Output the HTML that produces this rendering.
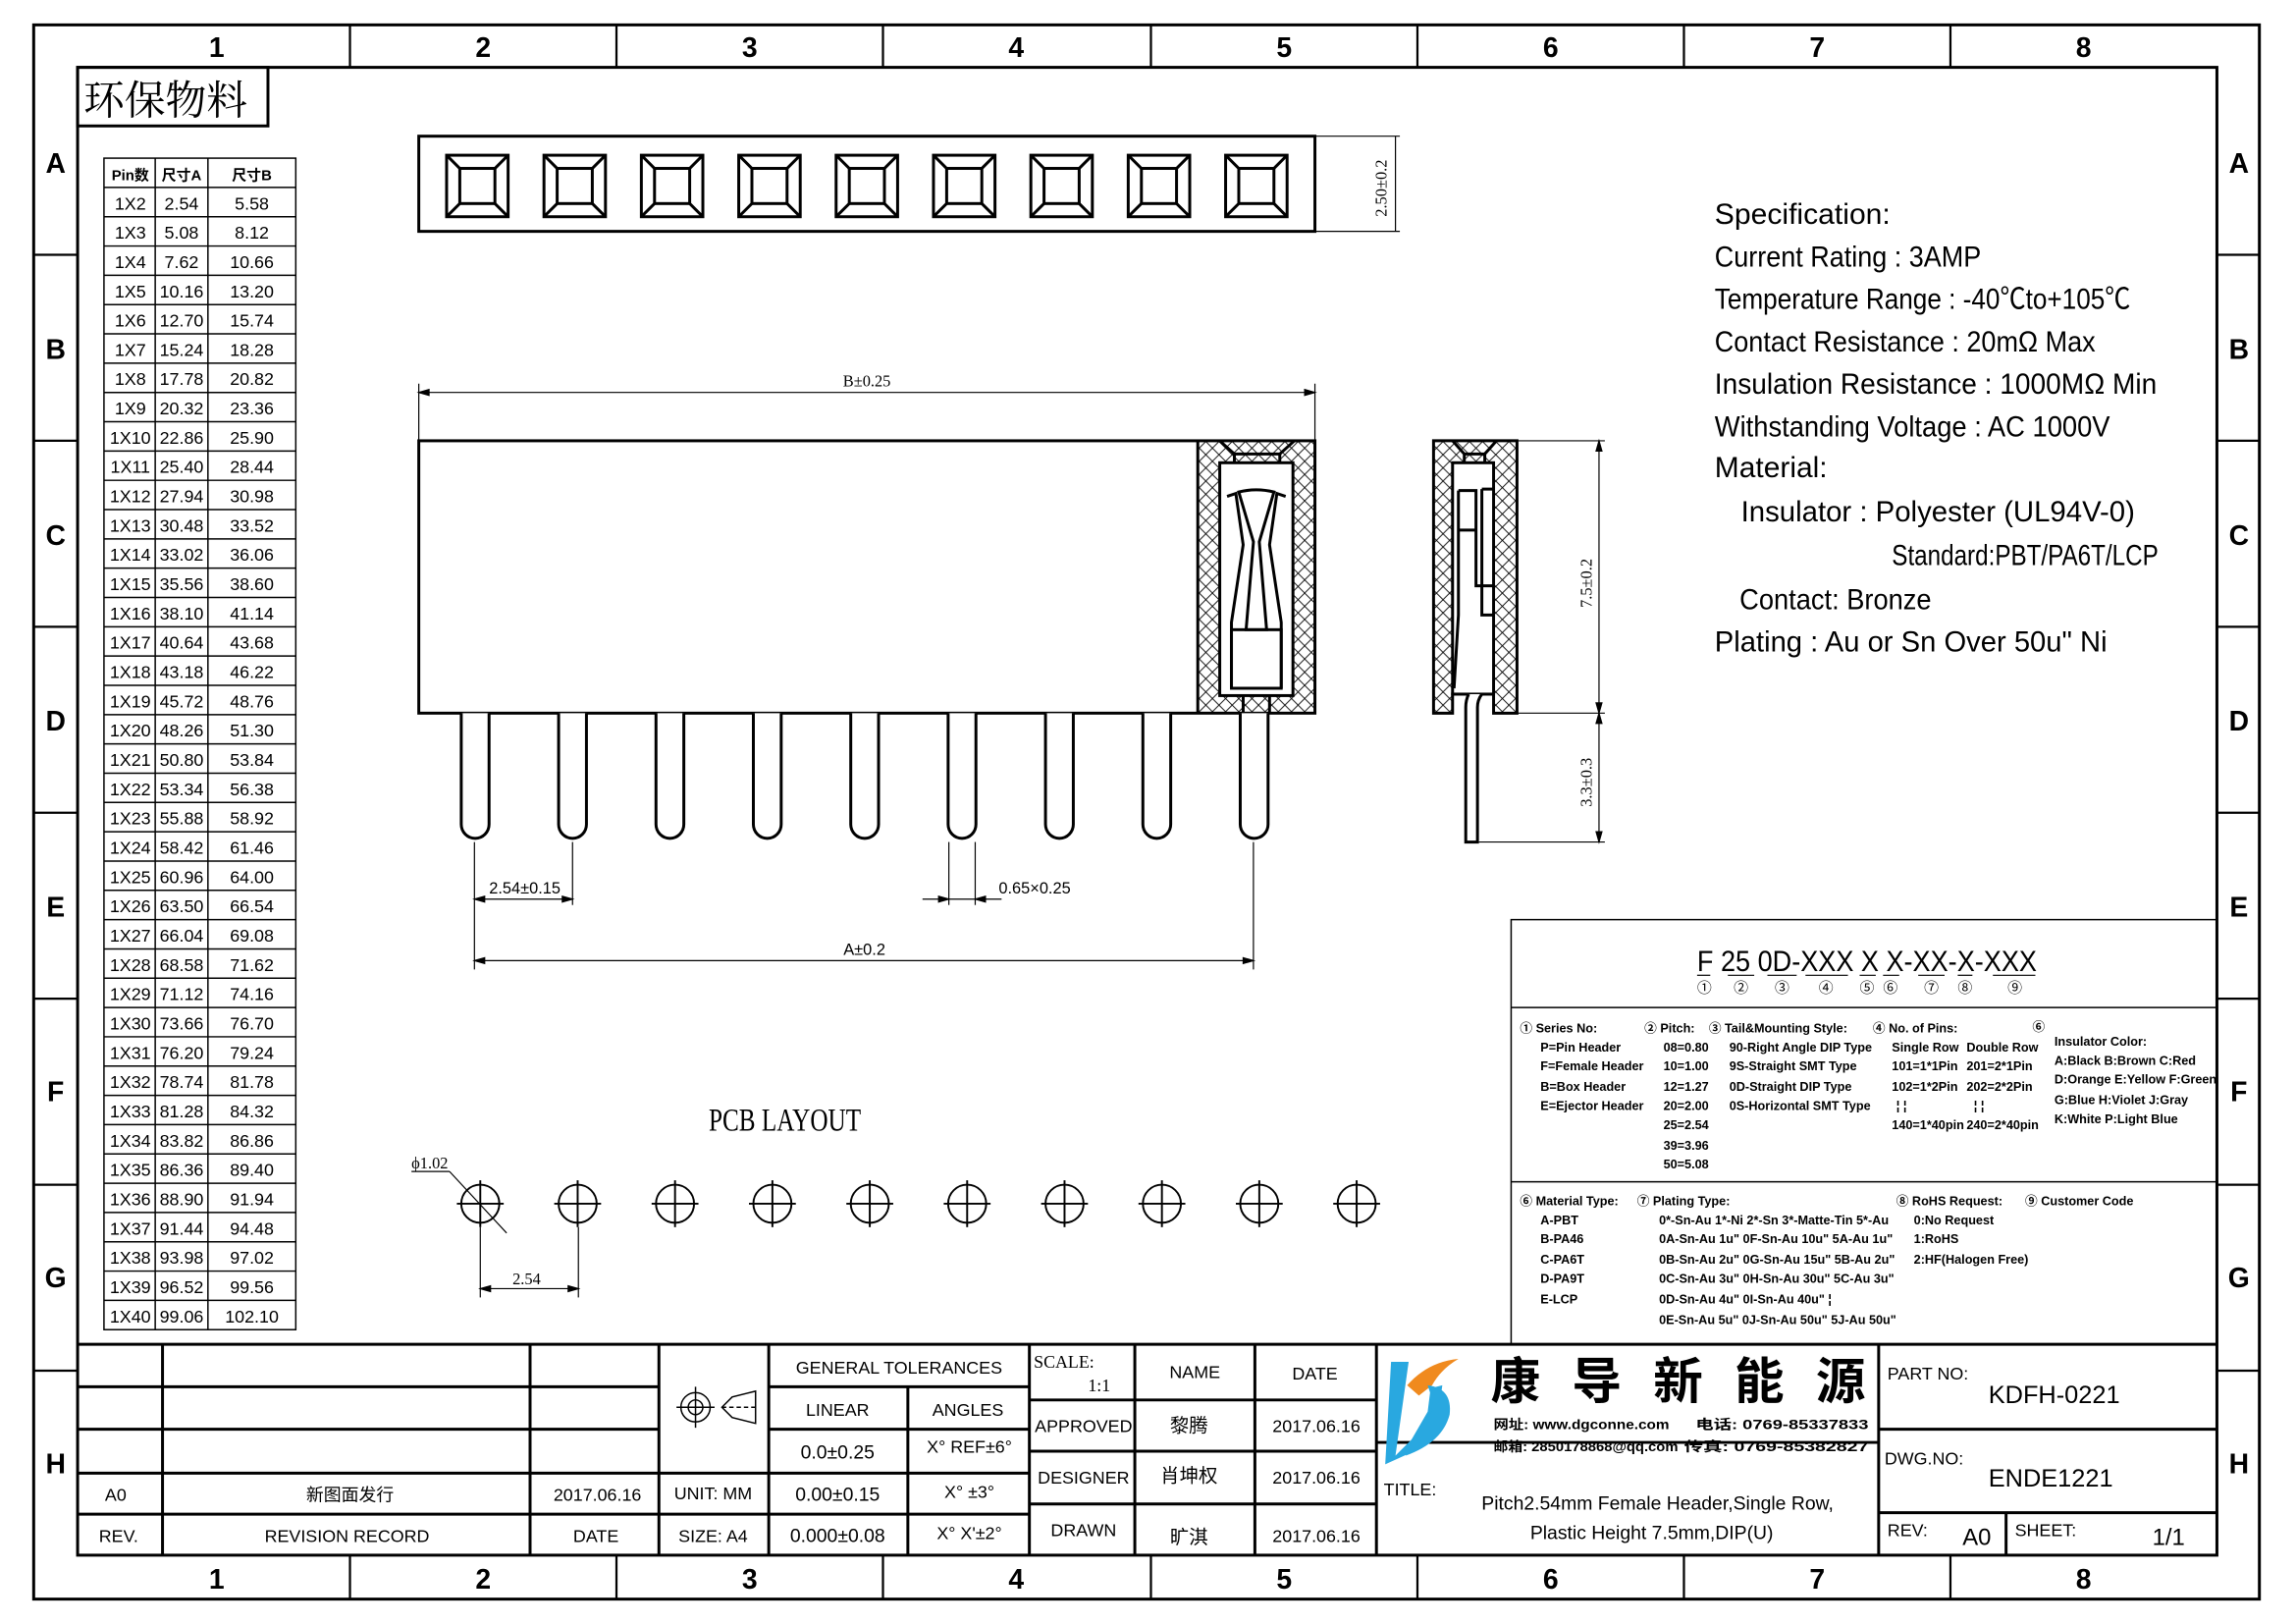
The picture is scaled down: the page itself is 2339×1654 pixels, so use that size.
<!DOCTYPE html>
<html><head><meta charset="utf-8"><style>
html,body{margin:0;padding:0;background:#fff;}
svg{display:block;}
text{font-family:"Liberation Sans","Noto Sans CJK SC",sans-serif;fill:#000;}
.s{font-family:"Liberation Serif","Noto Serif CJK SC","Noto Sans CJK SC",serif;}
.m{font-family:"Liberation Mono","Noto Sans CJK SC",monospace;}
.b{font-weight:bold;}
</style></head><body>
<svg width="2339" height="1654" viewBox="0 0 1568 1109" preserveAspectRatio="none" xmlns="http://www.w3.org/2000/svg">
<defs>
<pattern id="hx" width="9" height="9" patternUnits="userSpaceOnUse">
<path d="M0,0 L9,9 M9,0 L0,9" stroke="#000" stroke-width="0.6"/>
</pattern>
</defs>
<rect width="1568" height="1109" fill="#fff"/>
<!-- frame -->
<g fill="none" stroke="#000">
<rect x="23" y="17" width="1520" height="1075" stroke-width="2"/>
<rect x="53" y="46" width="1461" height="1016" stroke-width="2"/>
<g stroke-width="1.5">
<line x1="239" y1="17" x2="239" y2="46"/><line x1="421" y1="17" x2="421" y2="46"/><line x1="603" y1="17" x2="603" y2="46"/><line x1="786" y1="17" x2="786" y2="46"/><line x1="968" y1="17" x2="968" y2="46"/><line x1="1150" y1="17" x2="1150" y2="46"/><line x1="1332" y1="17" x2="1332" y2="46"/>
<line x1="239" y1="1062" x2="239" y2="1092"/><line x1="421" y1="1062" x2="421" y2="1092"/><line x1="603" y1="1062" x2="603" y2="1092"/><line x1="786" y1="1062" x2="786" y2="1092"/><line x1="968" y1="1062" x2="968" y2="1092"/><line x1="1150" y1="1062" x2="1150" y2="1092"/><line x1="1332" y1="1062" x2="1332" y2="1092"/>
<line x1="23" y1="174" x2="53" y2="174"/><line x1="23" y1="301" x2="53" y2="301"/><line x1="23" y1="428" x2="53" y2="428"/><line x1="23" y1="555" x2="53" y2="555"/><line x1="23" y1="682" x2="53" y2="682"/><line x1="23" y1="809" x2="53" y2="809"/><line x1="23" y1="936" x2="53" y2="936"/>
<line x1="1514" y1="174" x2="1543" y2="174"/><line x1="1514" y1="301" x2="1543" y2="301"/><line x1="1514" y1="428" x2="1543" y2="428"/><line x1="1514" y1="555" x2="1543" y2="555"/><line x1="1514" y1="682" x2="1543" y2="682"/><line x1="1514" y1="809" x2="1543" y2="809"/><line x1="1514" y1="936" x2="1543" y2="936"/>
</g></g>
<g font-size="19" font-weight="bold" text-anchor="middle">
<text x="148" y="39">1</text><text x="330" y="39">2</text><text x="512" y="39">3</text><text x="694" y="39">4</text><text x="877" y="39">5</text><text x="1059" y="39">6</text><text x="1241" y="39">7</text><text x="1423" y="39">8</text>
<text x="148" y="1085">1</text><text x="330" y="1085">2</text><text x="512" y="1085">3</text><text x="694" y="1085">4</text><text x="877" y="1085">5</text><text x="1059" y="1085">6</text><text x="1241" y="1085">7</text><text x="1423" y="1085">8</text>
<text x="38" y="118">A</text><text x="38" y="245">B</text><text x="38" y="372">C</text><text x="38" y="499">D</text><text x="38" y="626">E</text><text x="38" y="752">F</text><text x="38" y="879">G</text><text x="38" y="1006">H</text>
<text x="1529" y="118">A</text><text x="1529" y="245">B</text><text x="1529" y="372">C</text><text x="1529" y="499">D</text><text x="1529" y="626">E</text><text x="1529" y="752">F</text><text x="1529" y="879">G</text><text x="1529" y="1006">H</text>
</g>
<!-- eco label -->
<rect x="53" y="46" width="130" height="40" fill="none" stroke="#000" stroke-width="2"/>
<text x="57" y="78" font-size="28" class="s">环保物料</text>
<!-- table -->
<g fill="none" stroke="#000" stroke-width="1">
<rect x="71" y="108" width="131" height="800"/>
<line x1="106" y1="108" x2="106" y2="908"/><line x1="142" y1="108" x2="142" y2="908"/>
</g>
<g stroke="#000" stroke-width="1">
<line x1="71" y1="128" x2="202" y2="128"/><line x1="71" y1="148" x2="202" y2="148"/><line x1="71" y1="168" x2="202" y2="168"/><line x1="71" y1="188" x2="202" y2="188"/><line x1="71" y1="208" x2="202" y2="208"/><line x1="71" y1="228" x2="202" y2="228"/><line x1="71" y1="248" x2="202" y2="248"/><line x1="71" y1="268" x2="202" y2="268"/><line x1="71" y1="288" x2="202" y2="288"/><line x1="71" y1="308" x2="202" y2="308"/><line x1="71" y1="328" x2="202" y2="328"/><line x1="71" y1="348" x2="202" y2="348"/><line x1="71" y1="368" x2="202" y2="368"/><line x1="71" y1="388" x2="202" y2="388"/><line x1="71" y1="408" x2="202" y2="408"/><line x1="71" y1="428" x2="202" y2="428"/><line x1="71" y1="448" x2="202" y2="448"/><line x1="71" y1="468" x2="202" y2="468"/><line x1="71" y1="488" x2="202" y2="488"/><line x1="71" y1="508" x2="202" y2="508"/><line x1="71" y1="528" x2="202" y2="528"/><line x1="71" y1="548" x2="202" y2="548"/><line x1="71" y1="568" x2="202" y2="568"/><line x1="71" y1="588" x2="202" y2="588"/><line x1="71" y1="608" x2="202" y2="608"/><line x1="71" y1="628" x2="202" y2="628"/><line x1="71" y1="648" x2="202" y2="648"/><line x1="71" y1="668" x2="202" y2="668"/><line x1="71" y1="688" x2="202" y2="688"/><line x1="71" y1="708" x2="202" y2="708"/><line x1="71" y1="728" x2="202" y2="728"/><line x1="71" y1="748" x2="202" y2="748"/><line x1="71" y1="768" x2="202" y2="768"/><line x1="71" y1="788" x2="202" y2="788"/><line x1="71" y1="808" x2="202" y2="808"/><line x1="71" y1="828" x2="202" y2="828"/><line x1="71" y1="848" x2="202" y2="848"/><line x1="71" y1="868" x2="202" y2="868"/><line x1="71" y1="888" x2="202" y2="888"/>
</g>
<g font-size="12" class="s" text-anchor="middle">
<text x="89" y="123" font-size="10" font-weight="bold">Pin数</text><text x="124" y="123" font-size="10" font-weight="bold">尺寸A</text><text x="172" y="123" font-size="10" font-weight="bold">尺寸B</text>
</g>
<g font-size="12" class="s" text-anchor="middle">
<g>
<text x="89" y="143">1X2</text><text x="89" y="163">1X3</text><text x="89" y="183">1X4</text><text x="89" y="203">1X5</text><text x="89" y="223">1X6</text><text x="89" y="243">1X7</text><text x="89" y="263">1X8</text><text x="89" y="283">1X9</text><text x="89" y="303">1X10</text><text x="89" y="323">1X11</text><text x="89" y="343">1X12</text><text x="89" y="363">1X13</text><text x="89" y="383">1X14</text><text x="89" y="403">1X15</text><text x="89" y="423">1X16</text><text x="89" y="443">1X17</text><text x="89" y="463">1X18</text><text x="89" y="483">1X19</text><text x="89" y="503">1X20</text><text x="89" y="523">1X21</text><text x="89" y="543">1X22</text><text x="89" y="563">1X23</text><text x="89" y="583">1X24</text><text x="89" y="603">1X25</text><text x="89" y="623">1X26</text><text x="89" y="643">1X27</text><text x="89" y="663">1X28</text><text x="89" y="683">1X29</text><text x="89" y="703">1X30</text><text x="89" y="723">1X31</text><text x="89" y="743">1X32</text><text x="89" y="763">1X33</text><text x="89" y="783">1X34</text><text x="89" y="803">1X35</text><text x="89" y="823">1X36</text><text x="89" y="843">1X37</text><text x="89" y="863">1X38</text><text x="89" y="883">1X39</text><text x="89" y="903">1X40</text>
</g>
<g>
<text x="124" y="143">2.54</text><text x="124" y="163">5.08</text><text x="124" y="183">7.62</text><text x="124" y="203">10.16</text><text x="124" y="223">12.70</text><text x="124" y="243">15.24</text><text x="124" y="263">17.78</text><text x="124" y="283">20.32</text><text x="124" y="303">22.86</text><text x="124" y="323">25.40</text><text x="124" y="343">27.94</text><text x="124" y="363">30.48</text><text x="124" y="383">33.02</text><text x="124" y="403">35.56</text><text x="124" y="423">38.10</text><text x="124" y="443">40.64</text><text x="124" y="463">43.18</text><text x="124" y="483">45.72</text><text x="124" y="503">48.26</text><text x="124" y="523">50.80</text><text x="124" y="543">53.34</text><text x="124" y="563">55.88</text><text x="124" y="583">58.42</text><text x="124" y="603">60.96</text><text x="124" y="623">63.50</text><text x="124" y="643">66.04</text><text x="124" y="663">68.58</text><text x="124" y="683">71.12</text><text x="124" y="703">73.66</text><text x="124" y="723">76.20</text><text x="124" y="743">78.74</text><text x="124" y="763">81.28</text><text x="124" y="783">83.82</text><text x="124" y="803">86.36</text><text x="124" y="823">88.90</text><text x="124" y="843">91.44</text><text x="124" y="863">93.98</text><text x="124" y="883">96.52</text><text x="124" y="903">99.06</text>
<text x="172" y="143">5.58</text><text x="172" y="163">8.12</text><text x="172" y="183">10.66</text><text x="172" y="203">13.20</text><text x="172" y="223">15.74</text><text x="172" y="243">18.28</text><text x="172" y="263">20.82</text><text x="172" y="283">23.36</text><text x="172" y="303">25.90</text><text x="172" y="323">28.44</text><text x="172" y="343">30.98</text><text x="172" y="363">33.52</text><text x="172" y="383">36.06</text><text x="172" y="403">38.60</text><text x="172" y="423">41.14</text><text x="172" y="443">43.68</text><text x="172" y="463">46.22</text><text x="172" y="483">48.76</text><text x="172" y="503">51.30</text><text x="172" y="523">53.84</text><text x="172" y="543">56.38</text><text x="172" y="563">58.92</text><text x="172" y="583">61.46</text><text x="172" y="603">64.00</text><text x="172" y="623">66.54</text><text x="172" y="643">69.08</text><text x="172" y="663">71.62</text><text x="172" y="683">74.16</text><text x="172" y="703">76.70</text><text x="172" y="723">79.24</text><text x="172" y="743">81.78</text><text x="172" y="763">84.32</text><text x="172" y="783">86.86</text><text x="172" y="803">89.40</text><text x="172" y="823">91.94</text><text x="172" y="843">94.48</text><text x="172" y="863">97.02</text><text x="172" y="883">99.56</text><text x="172" y="903">102.10</text>
</g></g>
<!-- top view -->
<g fill="none" stroke="#000" stroke-width="2">
<rect x="286" y="93" width="612" height="65"/>
</g>
<g fill="none" stroke="#000" stroke-width="2">
<g id="sq"><rect x="305" y="106" width="42" height="42"/><rect x="314" y="115" width="24" height="24"/><path d="M305,106 L314,115 M347,106 L338,115 M305,148 L314,139 M347,148 L338,139"/></g>
<use href="#sq" x="66.5"/><use href="#sq" x="133"/><use href="#sq" x="199.5"/><use href="#sq" x="266"/><use href="#sq" x="332.5"/><use href="#sq" x="399"/><use href="#sq" x="465.5"/><use href="#sq" x="532"/>
</g>
<g stroke="#000" stroke-width="0.8" fill="none">
<line x1="898" y1="93" x2="956" y2="93"/><line x1="898" y1="158" x2="956" y2="158"/><line x1="953" y1="93" x2="953" y2="158"/>
</g>
<text transform="translate(947,148) rotate(-90)" font-size="11" class="s">2.50±0.2</text>
<!-- side view -->
<g stroke="#000" stroke-width="0.8" fill="none">
<line x1="286" y1="262" x2="286" y2="301"/><line x1="898" y1="262" x2="898" y2="301"/><line x1="286" y1="268" x2="898" y2="268"/>
<path d="M286,268 l7,-2 v4z M898,268 l-7,-2 v4z" fill="#000"/>
</g>
<text x="592" y="264" font-size="11" class="s" text-anchor="middle">B±0.25</text>
<rect x="286" y="301" width="612" height="186" fill="none" stroke="#000" stroke-width="2"/>
<path d="M818,301 H898 V487 H818 Z M833,316 H883 V475 H833 Z" fill="url(#hx)" fill-rule="evenodd" stroke="none"/>
<g fill="none" stroke="#000" stroke-width="2">
<line x1="818" y1="301" x2="818" y2="487"/>
<rect x="833" y="316" width="50" height="159" fill="#fff"/>
<path d="M833,301 L843,310 H874 L884,301"/>
<path d="M843,310 V316 M874,310 V316"/>
<path d="M838,339 L844,337 L849,372 L841,425 L841,470 M878,339 L872,337 L867,372 L875,425 L875,470"/>
<path d="M846,336 Q858,333 870,336 L860,370 L865,430 H851 L856,370 Z"/>
<rect x="841" y="430" width="34" height="40"/>
<path d="M849,475 V487 M867,475 V487"/>
</g>
<!-- pins -->
<g fill="#fff" stroke="#000" stroke-width="2">
<path d="M315,487 V563 A9.5,9.5 0 0 0 334,563 V487"/>
<path d="M381.5,487 V563 A9.5,9.5 0 0 0 400.5,563 V487"/>
<path d="M448,487 V563 A9.5,9.5 0 0 0 467,563 V487"/>
<path d="M514.5,487 V563 A9.5,9.5 0 0 0 533.5,563 V487"/>
<path d="M581,487 V563 A9.5,9.5 0 0 0 600,563 V487"/>
<path d="M647.5,487 V563 A9.5,9.5 0 0 0 666.5,563 V487"/>
<path d="M714,487 V563 A9.5,9.5 0 0 0 733,563 V487"/>
<path d="M780.5,487 V563 A9.5,9.5 0 0 0 799.5,563 V487"/>
<path d="M847,487 V563 A9.5,9.5 0 0 0 866,563 V487"/>
</g>
<!-- dims under pins -->
<g stroke="#000" stroke-width="0.8" fill="none">
<line x1="324" y1="575" x2="324" y2="662"/><line x1="391" y1="575" x2="391" y2="618"/><line x1="856" y1="575" x2="856" y2="662"/>
<line x1="648" y1="575" x2="648" y2="618"/><line x1="666" y1="575" x2="666" y2="618"/>
<line x1="324" y1="614" x2="391" y2="614"/><line x1="630" y1="614" x2="684" y2="614"/>
<line x1="324" y1="656" x2="856" y2="656"/>
<path d="M324,614 l7,-2 v4z M391,614 l-7,-2 v4z M648,614 l-7,-2 v4z M666,614 l7,-2 v4z M324,656 l7,-2 v4z M856,656 l-7,-2 v4z" fill="#000"/>
</g>
<g font-size="11" class="s">
<text x="334" y="610">2.54±0.15</text><text x="682" y="610">0.65×0.25</text><text x="576" y="652">A±0.2</text>
</g>
<!-- profile view -->
<path d="M979,301 H1036 V487 H1020 V316 H992 V487 H979 Z" fill="url(#hx)"/>
<g fill="none" stroke="#000" stroke-width="2">
<path d="M979,301 H1036 V487 H1020 V474 H992 V487 H979 Z"/>
<rect x="992" y="316" width="28" height="158" fill="#fff"/>
<path d="M992,301 L1000,310 H1014 L1022,301 M1000,310 V316 M1014,310 V316"/>
<path d="M996,335 H1008 V400 H1020 M996,335 V420 L993,470 M1012,334 H1020 M1012,334 V420 H1020"/>
<line x1="996" y1="362" x2="1008" y2="362"/>
<path d="M1003,474 Q1001,478 1001,483 V575 H1009 V483 Q1009,478 1012,474" fill="#fff"/>
</g>
<g stroke="#000" stroke-width="0.8" fill="none">
<line x1="1036" y1="301" x2="1096" y2="301"/><line x1="1036" y1="487" x2="1096" y2="487"/><line x1="1010" y1="575" x2="1096" y2="575"/>
<line x1="1092" y1="301" x2="1092" y2="575"/>
<path d="M1092,301 l-2,7 h4z M1092,487 l-2,-7 h4z M1092,487 l-2,7 h4z M1092,575 l-2,-7 h4z" fill="#000"/>
</g>
<text transform="translate(1087,415) rotate(-90)" font-size="11" class="s">7.5±0.2</text>
<text transform="translate(1087,551) rotate(-90)" font-size="11" class="s">3.3±0.3</text>
<!-- spec -->
<g font-size="20" class="s">
<text x="1171" y="153" textLength="120" lengthAdjust="spacingAndGlyphs">Specification:</text>
<text x="1171" y="182" textLength="182" lengthAdjust="spacingAndGlyphs">Current Rating : 3AMP</text>
<text x="1171" y="211" textLength="284" lengthAdjust="spacingAndGlyphs">Temperature Range : -40℃to+105℃</text>
<text x="1171" y="240" textLength="260" lengthAdjust="spacingAndGlyphs">Contact Resistance : 20mΩ Max</text>
<text x="1171" y="269" textLength="302" lengthAdjust="spacingAndGlyphs">Insulation Resistance : 1000MΩ Min</text>
<text x="1171" y="298" textLength="270" lengthAdjust="spacingAndGlyphs">Withstanding Voltage : AC 1000V</text>
<text x="1171" y="326" textLength="77" lengthAdjust="spacingAndGlyphs">Material:</text>
<text x="1189" y="356" textLength="269" lengthAdjust="spacingAndGlyphs">Insulator : Polyester (UL94V-0)</text>
<text x="1292" y="386" textLength="182" lengthAdjust="spacingAndGlyphs">Standard:PBT/PA6T/LCP</text>
<text x="1188" y="416" textLength="131" lengthAdjust="spacingAndGlyphs">Contact: Bronze</text>
<text x="1171" y="445" textLength="268" lengthAdjust="spacingAndGlyphs">Plating : Au or Sn Over 50u" Ni</text>
</g>
<!-- PCB layout -->
<text x="484" y="772" font-size="22" class="s" textLength="104" lengthAdjust="spacingAndGlyphs">PCB LAYOUT</text>
<g fill="none" stroke="#000" stroke-width="1.3">
<g id="hole"><circle cx="328" cy="822" r="13"/><line x1="312" y1="822" x2="344" y2="822"/><line x1="328" y1="806" x2="328" y2="838"/></g>
<use href="#hole" x="66.5"/><use href="#hole" x="133"/><use href="#hole" x="199.5"/><use href="#hole" x="266"/><use href="#hole" x="332.5"/><use href="#hole" x="399"/><use href="#hole" x="465.5"/><use href="#hole" x="532"/><use href="#hole" x="598.5"/>
</g>
<g stroke="#000" stroke-width="0.8" fill="none">
<line x1="307" y1="800" x2="346" y2="842"/><line x1="281" y1="800" x2="307" y2="800"/>
<line x1="328" y1="838" x2="328" y2="886"/><line x1="395" y1="838" x2="395" y2="886"/><line x1="328" y1="880" x2="395" y2="880"/>
<path d="M328,880 l7,-2 v4z M395,880 l-7,-2 v4z" fill="#000"/>
</g>
<text x="281" y="798" font-size="11" class="s">ϕ1.02</text>
<text x="350" y="877" font-size="11" class="s">2.54</text>
<!-- part code box -->
<g fill="none" stroke="#000" stroke-width="1">
<rect x="1032" y="628" width="482" height="290"/>
<line x1="1032" y1="688" x2="1514" y2="688"/><line x1="1032" y1="807" x2="1514" y2="807"/>
</g>
<g font-size="20" class="s">
<text x="1159" y="663" textLength="232" lengthAdjust="spacingAndGlyphs">F 25 0D-XXX X X-XX-X-XXX</text>
</g>
<g stroke="#000" stroke-width="0.8">
<line x1="1159" y1="666" x2="1168" y2="666"/><line x1="1180" y1="666" x2="1198" y2="666"/><line x1="1207" y1="666" x2="1227" y2="666"/><line x1="1233" y1="666" x2="1262" y2="666"/><line x1="1270" y1="666" x2="1281" y2="666"/><line x1="1286" y1="666" x2="1297" y2="666"/><line x1="1310" y1="666" x2="1328" y2="666"/><line x1="1337" y1="666" x2="1347" y2="666"/><line x1="1361" y1="666" x2="1390" y2="666"/>
</g>
<g font-size="10" text-anchor="middle">
<text x="1164" y="678">①</text><text x="1189" y="678">②</text><text x="1217" y="678">③</text><text x="1247" y="678">④</text><text x="1275" y="678">⑤</text><text x="1291" y="678">⑥</text><text x="1319" y="678">⑦</text><text x="1342" y="678">⑧</text><text x="1376" y="678">⑨</text>
</g>
<g font-size="8.5" font-weight="bold" class="s">
<text x="1038" y="705">① Series No:</text>
<text x="1052" y="718">P=Pin Header</text><text x="1052" y="731">F=Female Header</text><text x="1052" y="745">B=Box Header</text><text x="1052" y="758">E=Ejector Header</text>
<text x="1123" y="705">② Pitch:</text>
<text x="1136" y="718">08=0.80</text><text x="1136" y="731">10=1.00</text><text x="1136" y="745">12=1.27</text><text x="1136" y="758">20=2.00</text><text x="1136" y="771">25=2.54</text><text x="1136" y="785">39=3.96</text><text x="1136" y="798">50=5.08</text>
<text x="1167" y="705">③ Tail&amp;Mounting Style:</text>
<text x="1181" y="718">90-Right Angle DIP Type</text><text x="1181" y="731">9S-Straight SMT Type</text><text x="1181" y="745">0D-Straight DIP Type</text><text x="1181" y="758">0S-Horizontal SMT Type</text>
<text x="1279" y="705">④ No. of Pins:</text>
<text x="1292" y="718">Single Row</text><text x="1343" y="718">Double Row</text>
<text x="1292" y="731">101=1*1Pin</text><text x="1343" y="731">201=2*1Pin</text>
<text x="1292" y="745">102=1*2Pin</text><text x="1343" y="745">202=2*2Pin</text>
<text x="1295" y="758">¦  ¦</text><text x="1348" y="758">¦  ¦</text>
<text x="1292" y="771">140=1*40pin</text><text x="1343" y="771">240=2*40pin</text>
<text x="1388" y="704">⑥</text>
<text x="1403" y="714">Insulator Color:</text>
<text x="1403" y="727">A:Black  B:Brown  C:Red</text>
<text x="1403" y="740">D:Orange E:Yellow F:Green</text>
<text x="1403" y="754">G:Blue   H:Violet J:Gray</text>
<text x="1403" y="767">K:White  P:Light Blue</text>
<text x="1038" y="823">⑥ Material Type:</text>
<text x="1052" y="836">A-PBT</text><text x="1052" y="849">B-PA46</text><text x="1052" y="863">C-PA6T</text><text x="1052" y="876">D-PA9T</text><text x="1052" y="890">E-LCP</text>
<text x="1118" y="823">⑦ Plating Type:</text>
<text x="1133" y="836">0*-Sn-Au 1*-Ni 2*-Sn 3*-Matte-Tin 5*-Au</text>
<text x="1133" y="849">0A-Sn-Au 1u" 0F-Sn-Au 10u"  5A-Au 1u"</text>
<text x="1133" y="863">0B-Sn-Au 2u" 0G-Sn-Au 15u"  5B-Au 2u"</text>
<text x="1133" y="876">0C-Sn-Au 3u" 0H-Sn-Au 30u"  5C-Au 3u"</text>
<text x="1133" y="890">0D-Sn-Au 4u" 0I-Sn-Au 40u"      ¦</text>
<text x="1133" y="904">0E-Sn-Au 5u" 0J-Sn-Au 50u"  5J-Au 50u"</text>
<text x="1295" y="823">⑧ RoHS Request:</text>
<text x="1307" y="836">0:No Request</text><text x="1307" y="849">1:RoHS</text><text x="1307" y="863">2:HF(Halogen Free)</text>
<text x="1383" y="823">⑨ Customer Code</text>
</g>
<!-- title block -->
<g fill="none" stroke="#000" stroke-width="2">
<line x1="53" y1="918" x2="1514" y2="918"/>
<line x1="53" y1="947" x2="450" y2="947"/><line x1="53" y1="976" x2="450" y2="976"/><line x1="53" y1="1006" x2="703" y2="1006"/><line x1="53" y1="1034" x2="703" y2="1034"/>
<line x1="525" y1="947" x2="703" y2="947"/><line x1="525" y1="976" x2="703" y2="976"/>
<line x1="111" y1="918" x2="111" y2="1062"/><line x1="362" y1="918" x2="362" y2="1062"/><line x1="450" y1="918" x2="450" y2="1062"/><line x1="525" y1="918" x2="525" y2="1062"/><line x1="620" y1="947" x2="620" y2="1062"/><line x1="703" y1="918" x2="703" y2="1062"/>
<line x1="703" y1="956" x2="940" y2="956"/><line x1="703" y1="991" x2="940" y2="991"/><line x1="703" y1="1027" x2="940" y2="1027"/>
<line x1="775" y1="918" x2="775" y2="1062"/><line x1="857" y1="918" x2="857" y2="1062"/><line x1="940" y1="918" x2="940" y2="1062"/>
<line x1="940" y1="985" x2="1283" y2="985"/>
<line x1="1283" y1="918" x2="1283" y2="1062"/>
<line x1="1283" y1="976" x2="1514" y2="976"/><line x1="1283" y1="1033" x2="1514" y2="1033"/><line x1="1370" y1="1033" x2="1370" y2="1062"/>
</g>
<g fill="none" stroke="#000" stroke-width="1">
<circle cx="475" cy="961" r="10"/><circle cx="475" cy="961" r="5"/><line x1="462" y1="961" x2="488" y2="961"/><line x1="475" y1="947" x2="475" y2="975"/>
<path d="M493,961 L500,954 L516,950 V972 L500,968 Z"/><line x1="493" y1="961" x2="517" y2="961" stroke-dasharray="3,2"/>
</g>
<g font-size="12" class="s" text-anchor="middle">
<text x="79" y="1025">A0</text><text x="239" y="1025">新图面发行</text><text x="408" y="1025">2017.06.16</text>
<text x="81" y="1053">REV.</text><text x="237" y="1053">REVISION RECORD</text><text x="407" y="1053">DATE</text>
<text x="487" y="1024">UNIT: MM</text><text x="487" y="1053">SIZE: A4</text>
<text x="614" y="938">GENERAL TOLERANCES</text>
<text x="572" y="967">LINEAR</text><text x="661" y="967">ANGLES</text>
<text x="572" y="996" font-size="13">0.0±0.25</text><text x="662" y="992">X° REF±6°</text>
<text x="572" y="1025" font-size="13">0.00±0.15</text><text x="662" y="1023">X° ±3°</text>
<text x="572" y="1053" font-size="13">0.000±0.08</text><text x="662" y="1051">X° X'±2°</text>
<text x="816" y="941">NAME</text><text x="898" y="942">DATE</text>
<text x="740" y="978">APPROVED</text><text x="812" y="978" font-size="13">黎腾</text><text x="899" y="978">2017.06.16</text>
<text x="740" y="1013">DESIGNER</text><text x="812" y="1012" font-size="13">肖坤权</text><text x="899" y="1013">2017.06.16</text>
<text x="740" y="1049">DRAWN</text><text x="812" y="1054" font-size="13">旷淇</text><text x="899" y="1053">2017.06.16</text>
</g>
<text x="706" y="934" font-size="12" class="s">SCALE:</text>
<text x="743" y="950" font-size="12" class="s">1:1</text>
<!-- logo -->
<path d="M950,930 L962,930 L953,994 L964,983 L975,964 L977,948 L985,946 L982,968 L968,990 L946,1000 Z" fill="#29a8e0"/>
<path d="M961,946 Q975,930 996,928 Q984,935 978,946 L969,953 Z" fill="#f08a1e"/>
<path d="M975,946 Q992,948 990,966 Q985,985 960,994 L964,983 Q980,970 978,955 Z" fill="#29a8e0"/>
<text x="1018" y="955" font-size="34" font-weight="bold" textLength="256" lengthAdjust="spacing">康导新能源</text>
<g font-size="9" font-weight="bold">
<text x="1020" y="976" textLength="120" lengthAdjust="spacingAndGlyphs">网址: www.dgconne.com</text>
<text x="1158" y="976" textLength="118" lengthAdjust="spacingAndGlyphs">电话: 0769-85337833</text>
<text x="1020" y="991" textLength="126" lengthAdjust="spacingAndGlyphs">邮箱: 2850178868@qq.com</text>
<text x="1150" y="991" textLength="126" lengthAdjust="spacingAndGlyphs">传真: 0769-85382827</text>
</g>
<g class="s">
<text x="945" y="1021" font-size="12">TITLE:</text>
<text x="1132" y="1031" font-size="13" text-anchor="middle">Pitch2.54mm Female Header,Single Row,</text>
<text x="1128" y="1051" font-size="13" text-anchor="middle">Plastic Height 7.5mm,DIP(U)</text>
<text x="1289" y="942" font-size="12">PART NO:</text>
<text x="1358" y="958" font-size="17">KDFH-0221</text>
<text x="1287" y="1000" font-size="12">DWG.NO:</text>
<text x="1358" y="1015" font-size="17">ENDE1221</text>
<text x="1289" y="1049" font-size="12">REV:</text>
<text x="1350" y="1055" font-size="16" text-anchor="middle">A0</text>
<text x="1376" y="1049" font-size="12">SHEET:</text>
<text x="1481" y="1055" font-size="16" text-anchor="middle">1/1</text>
</g>
</svg>
</body></html>
